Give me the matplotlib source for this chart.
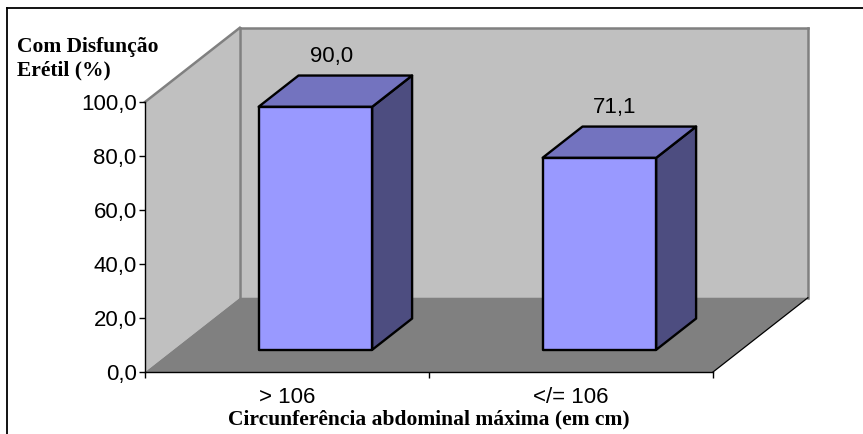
import matplotlib
matplotlib.use("Agg")
import matplotlib.pyplot as plt
from matplotlib.patches import Polygon
from matplotlib.lines import Line2D

# Data
categories = ["> 106", "</= 106"]
values = [90.0, 71.1]
value_labels = ["90,0", "71,1"]
y_ticks = [0, 20, 40, 60, 80, 100]
y_tick_labels = ["0,0", "20,0", "40,0", "60,0", "80,0", "100,0"]
y_title = "Com Disfunção\nErétil (%)"
x_title = "Circunferência abdominal máxima (em cm)"

# Colours
FRONT = "#9999FF"
TOP = "#7373BF"
SIDE = "#4D4D80"
WALL = "#C0C0C0"
FLOOR = "#808080"
WALL_EDGE = "#808080"

W, H = 863, 434
fig = plt.figure(figsize=(W / 100, H / 100), dpi=100)

# Front plane of the 3-D box
ax = fig.add_axes([145 / W, (H - 372) / H, 568 / W, 270 / H])
n = len(categories)
ax.set_xlim(0, n)
ax.set_ylim(0, 100)
ax.patch.set_visible(False)

# Oblique depth offset (full depth) in data units
DX = 0.334
DY = 27.5


def proj(x, y, d):
    return (x + d * DX, y + d * DY)


def poly(pts, **kw):
    p = Polygon(pts, closed=True, clip_on=False, **kw)
    ax.add_patch(p)
    return p


# Walls and floor
poly([proj(0, 0, 0), proj(0, 100, 0), proj(0, 100, 1), proj(0, 0, 1)],
     facecolor=WALL, edgecolor="none", zorder=0)
poly([proj(0, 0, 1), proj(n, 0, 1), proj(n, 100, 1), proj(0, 100, 1)],
     facecolor=WALL, edgecolor="none", zorder=0)
poly([proj(0, 0, 0), proj(n, 0, 0), proj(n, 0, 1), proj(0, 0, 1)],
     facecolor=FLOOR, edgecolor="none", zorder=0.5)

# Wall outlines
for seg in ([proj(0, 100, 0), proj(0, 100, 1)],
            [proj(0, 100, 1), proj(n, 100, 1)],
            [proj(0, 100, 1), proj(0, 0, 1)],
            [proj(n, 100, 1), proj(n, 0, 1)]):
    xs, ys = zip(*seg)
    ax.add_line(Line2D(xs, ys, color=WALL_EDGE, lw=1.8, clip_on=False, zorder=0.8))
xs, ys = zip(proj(n, 0, 0), proj(n, 0, 1))
ax.add_line(Line2D(xs, ys, color="black", lw=0.9, clip_on=False, zorder=0.8))

# Bars
bar_w = 0.40
d0, d1 = 0.30, 0.72
for i, (v, lab) in enumerate(zip(values, value_labels)):
    c = i + 0.5
    x0, x1 = c - bar_w / 2, c + bar_w / 2
    kw = dict(edgecolor="black", linewidth=1.7, joinstyle="round", zorder=2 + i)
    # front face
    poly([proj(x0, 0, d0), proj(x1, 0, d0), proj(x1, v, d0), proj(x0, v, d0)],
         facecolor=FRONT, **kw)
    # right side face
    poly([proj(x1, 0, d0), proj(x1, 0, d1), proj(x1, v, d1), proj(x1, v, d0)],
         facecolor=SIDE, **kw)
    # top face
    poly([proj(x0, v, d0), proj(x1, v, d0), proj(x1, v, d1), proj(x0, v, d1)],
         facecolor=TOP, **kw)
    lx, ly = proj(c, v, (d0 + d1) / 2)
    ax.text(lx - 0.015, ly + 12.8, lab, ha="center", va="center",
            fontsize=16, family="Liberation Sans", color="black",
            clip_on=False, zorder=5)

# Axes lines and ticks
for s in ("top", "right"):
    ax.spines[s].set_visible(False)
ax.spines["left"].set_color("black")
ax.spines["left"].set_linewidth(1.0)
ax.spines["bottom"].set_color("black")
ax.spines["bottom"].set_linewidth(1.0)
for sp in ax.spines.values():
    sp.set_zorder(1)

ax.set_yticks(y_ticks)
ax.set_yticklabels(y_tick_labels, family="Liberation Sans", fontsize=16)
ax.tick_params(axis="y", direction="out", length=4.5, width=1, pad=1.5, colors="black")

ax.set_xticks(range(n + 1))
ax.set_xticklabels([])
ax.tick_params(axis="x", which="major", direction="out", length=4.5, width=1, color="black")
ax.set_xticks([i + 0.5 for i in range(n)], minor=True)
ax.set_xticklabels(categories, minor=True, family="Liberation Sans", fontsize=16)
ax.tick_params(axis="x", which="minor", length=0, pad=11)

# Titles
fig.text(17 / W, 1 - 47 / H, "Com Disfunção", family="Liberation Serif",
         fontweight="bold", fontsize=15.5, ha="left", va="center")
fig.text(17 / W, 1 - 70 / H, "Erétil (%)", family="Liberation Serif",
         fontweight="bold", fontsize=15.5, ha="left", va="center")
fig.text(429 / W, 1 - 419 / H, x_title, family="Liberation Serif",
         fontweight="bold", fontsize=15.5, ha="center", va="center")

# Chart frame
fig.add_artist(Line2D([7 / W, 1], [1 - 8 / H, 1 - 8 / H], color="black", lw=1.3,
                      transform=fig.transFigure))
fig.add_artist(Line2D([7 / W, 7 / W], [0, 1 - 8 / H], color="black", lw=1.3,
                      transform=fig.transFigure))

fig.savefig("out.png", dpi=100)
